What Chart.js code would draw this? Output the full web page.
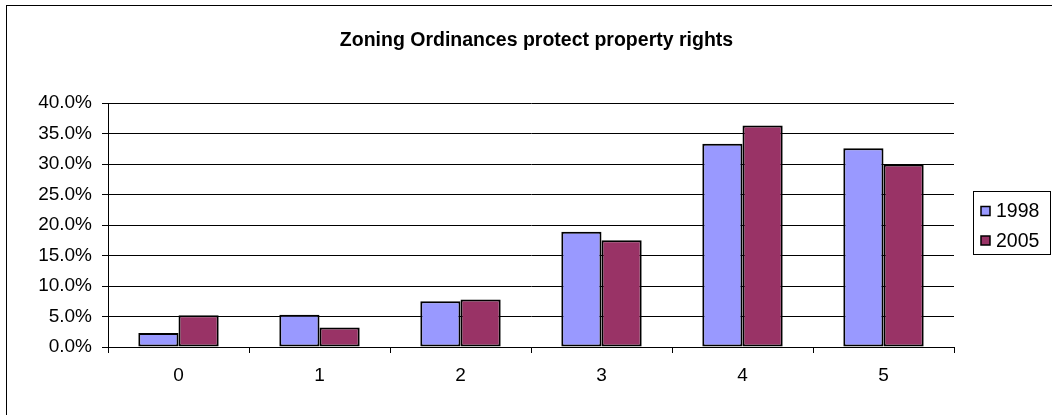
<!DOCTYPE html>
<html>
<head>
<meta charset="utf-8">
<script src="https://cdn.jsdelivr.net/npm/chart.js@4.4.1/dist/chart.umd.min.js"></script>
<style>
  html, body { margin: 0; padding: 0; background: #fff; }
  #wrap { position: relative; width: 1052px; height: 415px; }
</style>
</head>
<body>
<div id="wrap"><canvas id="c" width="1052" height="415"></canvas></div>
<script>
const categories = ['0', '1', '2', '3', '4', '5'];
const series1998 = [2.3, 5.3, 7.5, 18.9, 33.3, 32.6];
const series2005 = [5.2, 3.2, 7.8, 17.5, 36.3, 29.9];
const seriesLabels = ['1998', '2005'];
const seriesColors = ['#9999FF', '#993366'];
const chartTitle = 'Zoning Ordinances protect property rights';
const yMax = 40, yStep = 5;

const FONT = '"Liberation Sans", Arial, sans-serif';

const frameTitleLegend = {
  id: 'frameTitleLegend',
  beforeDraw(chart) {
    const ctx = chart.ctx;
    ctx.save();
    ctx.fillStyle = '#fff';
    ctx.fillRect(0, 0, chart.width, chart.height);
    ctx.strokeStyle = '#000';
    ctx.lineWidth = 1;
    ctx.strokeRect(6.5, 5.5, 1200, 600);
    ctx.restore();
  },
  afterDraw(chart) {
    const ctx = chart.ctx;
    ctx.save();
    // title, centred on the whole chart
    ctx.fillStyle = '#000';
    ctx.font = 'bold 19.5px ' + FONT;
    ctx.textAlign = 'center';
    ctx.textBaseline = 'middle';
    ctx.fillText(chartTitle, 536.5, 40.5);
    // legend box
    const bx = 973.5, by = 191.5, bw = 77, bh = 63;
    ctx.fillStyle = '#fff';
    ctx.fillRect(bx, by, bw, bh);
    ctx.strokeStyle = '#000';
    ctx.lineWidth = 1;
    ctx.strokeRect(bx, by, bw, bh);
    ctx.font = '19.5px ' + FONT;
    ctx.textBaseline = 'middle';
    ctx.textAlign = 'left';
    chart.data.datasets.forEach((ds, i) => {
      const cy = 211 + i * 29.5;
      ctx.fillStyle = ds.backgroundColor;
      ctx.fillRect(981, cy - 4.5, 9, 9);
      ctx.lineWidth = 1.5;
      ctx.strokeRect(981, cy - 4.5, 9, 9);
      ctx.fillStyle = '#000';
      ctx.fillText(ds.label, 996, cy + 1);
    });
    ctx.restore();
  }
};

new Chart(document.getElementById('c'), {
  type: 'bar',
  data: {
    labels: categories,
    datasets: [
      { label: seriesLabels[0], data: series1998, backgroundColor: seriesColors[0] },
      { label: seriesLabels[1], data: series2005, backgroundColor: seriesColors[1] }
    ]
  },
  options: {
    responsive: false,
    animation: false,
    devicePixelRatio: 1,
    layout: { padding: { left: 8, right: 98, top: 103, bottom: 0 } },
    datasets: {
      bar: {
        categoryPercentage: 0.57,
        barPercentage: 1.0,
        borderColor: '#000',
        borderWidth: 2,
        borderSkipped: false
      }
    },
    plugins: {
      legend: { display: false },
      tooltip: { enabled: false },
      title: { display: false }
    },
    scales: {
      x: {
        grid: {
          drawOnChartArea: false,
          drawTicks: true,
          tickLength: 6,
          color: '#000',
          offset: true
        },
        border: { display: true, color: '#000', width: 1 },
        ticks: {
          color: '#000',
          font: { family: FONT, size: 19 },
          padding: 11,
          maxRotation: 0
        },
        afterFit(s) { s.height = 68; }
      },
      y: {
        min: 0,
        max: yMax,
        grid: {
          color: '#000',
          lineWidth: 1,
          tickLength: 6
        },
        border: { display: true, color: '#000', width: 1 },
        ticks: {
          stepSize: yStep,
          color: '#000',
          font: { family: FONT, size: 19 },
          padding: 10,
          callback: v => v.toFixed(1) + '%'
        },
        afterFit(s) { s.width = 100; }
      }
    }
  },
  plugins: [frameTitleLegend]
});
</script>
</body>
</html>
